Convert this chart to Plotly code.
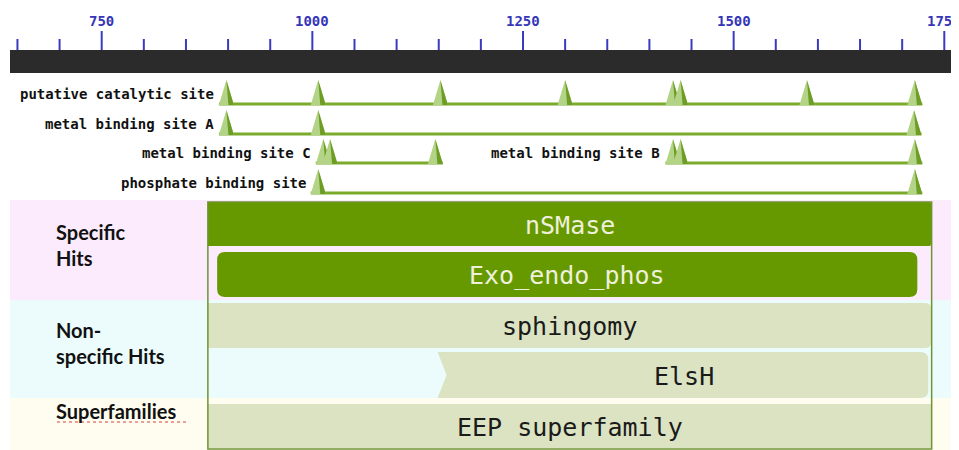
import plotly.graph_objects as go

# ---------------- data ----------------
major_ticks = [750, 1000, 1250, 1500, 1750]
minor_ticks = [650, 700, 800, 850, 900, 950, 1050, 1100, 1150, 1200, 1300, 1350,
               1400, 1450, 1550, 1600, 1650, 1700]

site_names = ["putative catalytic site", "metal binding site A", "metal binding site C",
              "metal binding site B", "phosphate binding site"]
site_rows = [0, 1, 2, 2, 3]
site_positions = [
    [898, 1007, 1152, 1300, 1428, 1437, 1587, 1715],
    [898, 1007, 1714],
    [1013, 1021, 1146],
    [1428, 1437, 1715],
    [1007, 1715],
]

domain_names = ["nSMase", "Exo_endo_phos", "sphingomy", "ElsH", "EEP superfamily"]
domain_start = [876, 887, 876, 1151, 876]
domain_end = [1735, 1718, 1735, 1731, 1735]
domain_kind = ["specific", "specific", "nonspecific", "nonspecific", "superfamily"]

group_labels = ["Specific<br>Hits", "Non-<br>specific Hits", "Superfamilies"]

# ---------------- layout constants ----------------
# the page body has an 8px margin, so the figure starts at page pixel 8
OFF = 8
W, H = 959 - OFF, 450 - OFF
PXU = 0.8426                      # pixels per residue
XMIN = 629.3 + OFF / PXU
XMAX = XMIN + W / PXU


def dx(px):
    return px / PXU


X_LEFT = 629.3 + dx(10)
X_RIGHT = 629.3 + dx(959)

DARK = "#669900"
LIGHT = "#dce3c3"
LINE = "#7aab2a"
TRI_L = "#b3d486"
TRI_D = "#6e9d26"

fig = go.Figure()
shapes = []
annotations = []

# ---------- ruler ----------
shapes.append(dict(type="rect", xref="x", yref="y", x0=X_LEFT, x1=X_RIGHT, y0=50, y1=73,
                   fillcolor="#2b2b2b", line=dict(width=0), layer="below"))
for t in major_ticks:
    shapes.append(dict(type="line", xref="x", yref="y", x0=t, x1=t, y0=31, y1=50,
                       line=dict(color="#3a3ac0", width=2)))
    annotations.append(dict(x=t, y=21, xref="x", yref="y", text=f"<b>{t}</b>", showarrow=False,
                            font=dict(family="DejaVu Sans Mono", size=14, color="#3636b8"),
                            xanchor="center", yanchor="middle"))
for t in minor_ticks:
    shapes.append(dict(type="line", xref="x", yref="y", x0=t, x1=t, y0=39, y1=50,
                       line=dict(color="#3a3ac0", width=2)))

# ---------- background bands ----------
bands = [(200, 300, "#fcebfc"), (300, 398, "#ecfcfd"), (398, 450, "#fefdf0")]
for y0, y1, c in bands:
    shapes.append(dict(type="rect", xref="x", yref="y", x0=X_LEFT, x1=X_RIGHT, y0=y0, y1=y1,
                       fillcolor=c, line=dict(width=0), layer="below"))

# ---------- site rows ----------
ROW_BASE = [105, 135, 164, 194]
TRI_H = 25
HALF = dx(7.5)
for name, row, pos in zip(site_names, site_rows, site_positions):
    base = ROW_BASE[row]
    x0 = min(pos) - HALF
    x1 = max(pos) + HALF
    fig.add_trace(go.Scatter(x=[x0, x1], y=[base - 1, base - 1], mode="lines",
                             line=dict(color=LINE, width=3), hoverinfo="skip", showlegend=False))
    for p in pos:
        fig.add_trace(go.Scatter(x=[p - HALF, p, p + HALF, p - HALF],
                                 y=[base, base - TRI_H, base, base],
                                 fill="toself", fillcolor=TRI_L, mode="lines",
                                 line=dict(width=0, color=TRI_L), hoverinfo="skip", showlegend=False))
        fig.add_trace(go.Scatter(x=[p, p + dx(2), p + HALF, p],
                                 y=[base - TRI_H, base, base, base - TRI_H],
                                 fill="toself", fillcolor=TRI_D, mode="lines",
                                 line=dict(width=0, color=TRI_D), hoverinfo="skip", showlegend=False))
    annotations.append(dict(x=x0 - dx(3), y=base - 11, xref="x", yref="y", text=f"<b>{name}</b>",
                            showarrow=False, xanchor="right", yanchor="middle",
                            font=dict(family="DejaVu Sans Mono", size=14, color="#111111")))

# ---------- domain bars ----------
BAR_Y = [(202, 246), (252, 297), (303, 348), (352, 398), (404, 448)]


def rrect(x0, x1, y0, y1, rl, rr, r=8, notch=0.0):
    rlx, rrx = dx(rl), dx(rr)
    rly = r if rl else 0
    rry = r if rr else 0
    ym = (y0 + y1) / 2
    p = f"M {x0 + rlx},{y0} L {x1 - rrx},{y0} "
    p += f"Q {x1},{y0} {x1},{y0 + rry} L {x1},{y1 - rry} Q {x1},{y1} {x1 - rrx},{y1} "
    p += f"L {x0 + rlx},{y1} "
    if notch:
        p += f"L {x0 + dx(notch)},{ym} L {x0},{y0} Z"
    else:
        p += f"Q {x0},{y1} {x0},{y1 - rly} L {x0},{y0 + rly} Q {x0},{y0} {x0 + rlx},{y0} Z"
    return p


styles = {
    0: dict(rl=0, rr=2, notch=0),
    1: dict(rl=8, rr=8, notch=0),
    2: dict(rl=0, rr=6, notch=0),
    3: dict(rl=0, rr=8, notch=9),
    4: dict(rl=0, rr=0, notch=0),
}
for i, (name, s, e, kind) in enumerate(zip(domain_names, domain_start, domain_end, domain_kind)):
    y0, y1 = BAR_Y[i]
    fill = DARK if kind == "specific" else LIGHT
    st = styles[i]
    x_start = s - dx(2) if st["notch"] else s
    shapes.append(dict(type="path", xref="x", yref="y",
                       path=rrect(x_start, e, y0, y1, st["rl"], st["rr"], notch=st["notch"]),
                       fillcolor=fill, line=dict(width=0)))
    tcol = "#eef0dc" if kind == "specific" else "#1a1a1a"
    annotations.append(dict(x=(s + e) / 2, y=(y0 + y1) / 2 + 1, xref="x", yref="y", text=name,
                            showarrow=False, xanchor="center", yanchor="middle",
                            font=dict(family="DejaVu Sans Mono", size=25, color=tcol)))

# outline of the hit box
shapes.append(dict(type="rect", xref="x", yref="y", x0=min(domain_start), x1=max(domain_end),
                   y0=202, y1=449, fillcolor="rgba(0,0,0,0)",
                   line=dict(color="#6f9433", width=1.5)))

# ---------- group labels ----------
label_y = [245, 343, 411]
for txt, y in zip(group_labels, label_y):
    annotations.append(dict(x=629.3 + dx(54), y=y, xref="x", yref="y", text=f"<b>{txt}</b>",
                            showarrow=False, xanchor="left", yanchor="middle", align="left",
                            font=dict(family="Lato", size=20, color="#111111")))
# spell-check underline under "Superfamilies"
shapes.append(dict(type="line", xref="x", yref="y", x0=629.3 + dx(57), x1=629.3 + dx(188),
                   y0=422, y1=422, line=dict(color="#d84040", width=1, dash="dot")))

fig.update_layout(
    width=W, height=H, margin=dict(l=0, r=0, t=0, b=0),
    paper_bgcolor="white", plot_bgcolor="white",
    xaxis=dict(range=[XMIN, XMAX], visible=False, fixedrange=True),
    yaxis=dict(range=[450, OFF], visible=False, fixedrange=True),
    shapes=shapes, annotations=annotations, showlegend=False,
)

fig.write_html("out.html")
